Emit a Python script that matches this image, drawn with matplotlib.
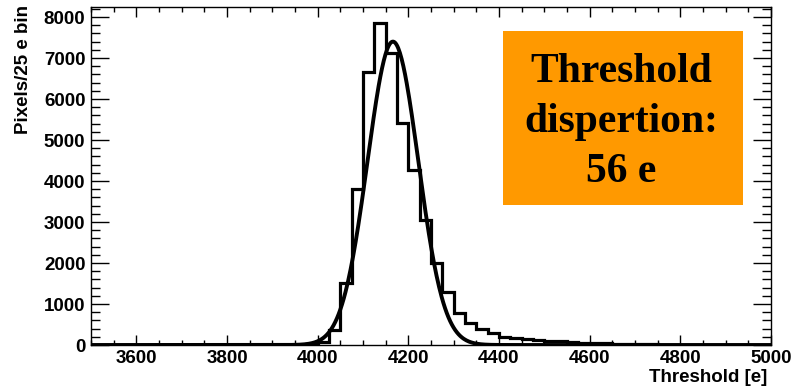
#!/usr/bin/env python3
"""
Distribution des seuils par pixel (bins de 25 e) avec ajustement gaussien.
"""

import numpy as np
import matplotlib
matplotlib.use("Agg")
import matplotlib.pyplot as plt
from matplotlib.patches import Rectangle
from matplotlib.ticker import MultipleLocator

# Histogramme : bins de 25 e entre 3500 et 5000 e
bin_lo = 3500
bin_hi = 5000
bin_width = 25
counts = [
    0, 0, 0, 0, 0, 0, 0, 0, 0, 0,            # 3500 - 3750
    0, 0, 0, 0, 0, 0, 0, 0, 10, 20,          # 3750 - 4000
    80, 366, 1520, 3800, 6650, 7850, 7130, 5410, 4270, 3050,   # 4000 - 4250
    1990, 1300, 770, 530, 380, 285, 200, 180, 140, 130,        # 4250 - 4500
    100, 90, 70, 60, 50, 40, 30, 25, 20, 15,                   # 4500 - 4750
    10, 10, 5, 5, 5, 0, 0, 0, 0, 0,                            # 4750 - 5000
]

# Paramètres de l'ajustement gaussien
fit_const = 7400
fit_mean = 4166
fit_sigma = 56

box_lines = ["Threshold", "dispertion:", "56 e"]

W, H = 799, 389
fig = plt.figure(figsize=(W / 100, H / 100), dpi=100)
ax = fig.add_axes([91 / W, 44 / H, 680 / W, 338 / H])

edges = np.arange(bin_lo, bin_hi + bin_width, bin_width)
ax.stairs(counts, edges, color="black", linewidth=2.3, baseline=0)

xf = np.linspace(bin_lo, bin_hi, 800)
yf = fit_const * np.exp(-0.5 * ((xf - fit_mean) / fit_sigma) ** 2)
ax.plot(xf, yf, color="black", linewidth=2.8)

ax.set_xlim(bin_lo, bin_hi)
ax.set_ylim(0, 8244)

ax.xaxis.set_major_locator(MultipleLocator(200))
ax.xaxis.set_minor_locator(MultipleLocator(50))
ax.yaxis.set_major_locator(MultipleLocator(1000))
ax.yaxis.set_minor_locator(MultipleLocator(200))

ax.tick_params(which="both", direction="in", top=True, right=True, width=1.0)
ax.tick_params(axis="x", which="major", length=7.5, pad=3.5)
ax.tick_params(axis="x", which="minor", length=3.6)
ax.tick_params(axis="y", which="major", length=13, pad=4)
ax.tick_params(axis="y", which="minor", length=6.5)
for spine in ax.spines.values():
    spine.set_linewidth(1.0)

for lab in ax.get_xticklabels() + ax.get_yticklabels():
    lab.set_family("Liberation Sans")
    lab.set_fontweight("bold")
    lab.set_fontsize(13.5)
# pas de label 3500 sur l'axe x
ax.set_xticks(np.arange(3600, 5001, 200))
ax.set_xticklabels([str(v) for v in range(3600, 5001, 200)],
                   family="Liberation Sans", fontweight="bold", fontsize=13.5)

fig.text(767 / W, 1 - 378 / H, "Threshold [e]", ha="right", va="center",
         family="Liberation Sans", fontweight="bold", fontsize=13.5)
fig.text(24 / W, 1 - 5 / H, "Pixels/25 e bin", ha="center", va="top",
         rotation=90, family="Liberation Sans", fontweight="bold", fontsize=13.5)

# Encadré orange avec la dispersion
box = Rectangle((503 / W, 1 - 205 / H), 240 / W, 174 / H,
                transform=fig.transFigure, facecolor="#ff9900",
                edgecolor="none", zorder=5)
fig.patches.append(box)
for i, line in enumerate(box_lines):
    fig.text(621 / W, 1 - (81.7 + 50 * i) / H, line, ha="center", va="baseline",
             family="Liberation Serif", fontweight="bold", fontsize=30,
             color="black", zorder=6)

fig.savefig("out.png", dpi=100)
